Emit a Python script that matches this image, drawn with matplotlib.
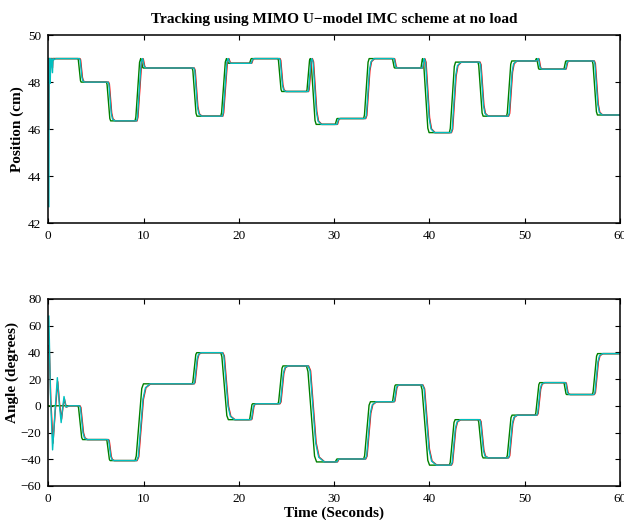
import matplotlib
matplotlib.use("Agg")
import matplotlib.pyplot as plt

# ---------------- data ----------------
step_times = [0, 3, 6, 9, 12, 15, 18, 21, 24, 27, 30, 33, 36, 39, 42, 45, 48, 51, 54, 57]

pos_levels = [49.0, 48.0, 46.35, 48.6, 48.6, 46.55, 48.8, 49.0, 47.6, 46.2,
              46.45, 49.0, 48.6, 45.85, 48.85, 46.55, 48.9, 48.55, 48.9, 46.6]
pos_peak_steps = [9, 18, 27, 39, 51]
pos_peak_times = [9.7, 18.7, 27.5, 39.3, 51.25]
pos_peak_values = [49.0, 49.0, 49.0, 49.0, 49.0]

ang_levels = [0.0, -25.3, -41.0, 16.4, 16.4, 39.7, -10.4, 1.5, 29.8, -42.0,
              -39.8, 3.0, 15.6, -44.4, -10.4, -39.0, -7.0, 17.3, 8.4, 39.0]

# initial transients of the measured outputs
pos_init_t = [0.06, 0.09, 0.14, 0.2, 0.26, 0.34, 0.44, 0.49, 0.57, 0.8, 1.2]
pos_init_cyan = [42.7, 49.0, 49.0, 47.95, 49.0, 48.95, 48.4, 49.0, 48.95, 49.0, 49.0]
pos_init_red = [46.0, 49.0, 49.0, 48.2, 49.0, 49.0, 48.6, 49.0, 49.0, 49.0, 49.0]

ang_init_t = [0.06, 0.22, 0.45, 0.7, 0.95, 1.15, 1.35, 1.5, 1.65, 1.85, 2.2]
ang_init_cyan = [67.0, 10.0, -33.0, -5.0, 21.0, 2.0, -12.6, -2.0, 6.9, -1.0, 0.0]
ang_init_red = [45.0, 5.0, -28.0, -3.0, 18.0, 1.0, -10.0, -1.0, 5.0, -1.0, 0.0]

t_end = 60.0

REF_SHAPE = [(0.15, 0.06), (0.8, 0.94), (1.0, 1.0)]
OUT_SHAPE = [(0.2, 0.05), (0.75, 0.8), (1.05, 0.95), (1.6, 1.0)]


def pos_dur(d):
    return 0.2 + 0.15 * abs(d)


def ang_dur(d):
    return 0.2 + 0.012 * abs(d)


def build_path(levels, dur, lag, last_shape, peaks):
    ts = [0.0]
    ys = [levels[0]]
    for k in range(1, len(step_times)):
        prev, new = levels[k - 1], levels[k]
        st = step_times[k]
        s = st + 0.1 + lag
        if st in peaks:
            pt, pv = peaks[st]
            legs = [(prev, pv, pt + lag - s, REF_SHAPE),
                    (pv, new, dur(pv - new), last_shape)]
        elif new != prev:
            legs = [(prev, new, dur(new - prev), last_shape)]
        else:
            continue
        ts.append(s)
        ys.append(prev)
        cur = s
        for a, b, D, shape in legs:
            for ft, fy in shape:
                ts.append(cur + ft * D)
                ys.append(a + fy * (b - a))
            cur += D
    ts.append(t_end)
    ys.append(levels[-1])
    return ts, ys


def with_init(path, init_t, init_y):
    ts, ys = path
    keep = [(t, y) for t, y in zip(ts, ys) if t > init_t[-1]]
    return (list(init_t) + [p[0] for p in keep], list(init_y) + [p[1] for p in keep])


pos_peaks = {s: (t, v) for s, t, v in zip(pos_peak_steps, pos_peak_times, pos_peak_values)}

pos_ref = build_path(pos_levels, pos_dur, 0.0, REF_SHAPE, pos_peaks)
pos_red = with_init(build_path(pos_levels, pos_dur, 0.22, OUT_SHAPE, pos_peaks), pos_init_t, pos_init_red)
pos_cyan = with_init(build_path(pos_levels, pos_dur, 0.17, OUT_SHAPE, pos_peaks), pos_init_t, pos_init_cyan)

ang_ref = build_path(ang_levels, ang_dur, 0.0, REF_SHAPE, {})
ang_red = with_init(build_path(ang_levels, ang_dur, 0.22, OUT_SHAPE, {}), [t + 0.04 for t in ang_init_t], ang_init_red)
ang_cyan = with_init(build_path(ang_levels, ang_dur, 0.17, OUT_SHAPE, {}), ang_init_t, ang_init_cyan)

# ---------------- drawing ----------------
plt.rcParams['font.family'] = ['Liberation Serif', 'DejaVu Serif']
plt.rcParams['axes.unicode_minus'] = True

GREEN = (0.0, 0.5, 0.0)
RED = (1.0, 0.0, 0.0)
CYAN = (0.0, 0.75, 0.75)

fig = plt.figure(figsize=(6.24, 5.2), dpi=100)
ax1 = fig.add_axes([0.0774, 0.571, 0.916, 0.3615])
ax2 = fig.add_axes([0.0774, 0.0654, 0.916, 0.36])

for ax, ref, red, cyan in [(ax1, pos_ref, pos_red, pos_cyan), (ax2, ang_ref, ang_red, ang_cyan)]:
    ax.plot(*ref, color=GREEN, lw=1.0)
    ax.plot(*red, color=RED, lw=1.0)
    ax.plot(*cyan, color=CYAN, lw=1.0)
    ax.set_xlim(0, 60)
    ax.set_xticks([0, 10, 20, 30, 40, 50, 60])
    ax.tick_params(direction='in', top=True, right=True, length=3.6, width=0.8,
                   labelsize=9.5, pad=5)
    for sp in ax.spines.values():
        sp.set_linewidth(1.1)

ax1.set_ylim(42, 50)
ax1.set_yticks([42, 44, 46, 48, 50])
ax2.set_ylim(-60, 80)
ax2.set_yticks([-60, -40, -20, 0, 20, 40, 60, 80])

ax1.set_title('Tracking using MIMO U\u2212model IMC scheme at no load',
              fontsize=11, fontweight='bold', pad=9)
ax1.set_ylabel('Position (cm)', fontsize=11, fontweight='bold')
ax1.yaxis.set_label_coords(-0.0425, 0.5)
ax2.set_ylabel('Angle (degrees)', fontsize=11, fontweight='bold')
ax2.yaxis.set_label_coords(-0.051, 0.607)
ax2.set_xlabel('Time (Seconds)', fontsize=11, fontweight='bold', labelpad=1)

fig.savefig('out.png', dpi=100)
